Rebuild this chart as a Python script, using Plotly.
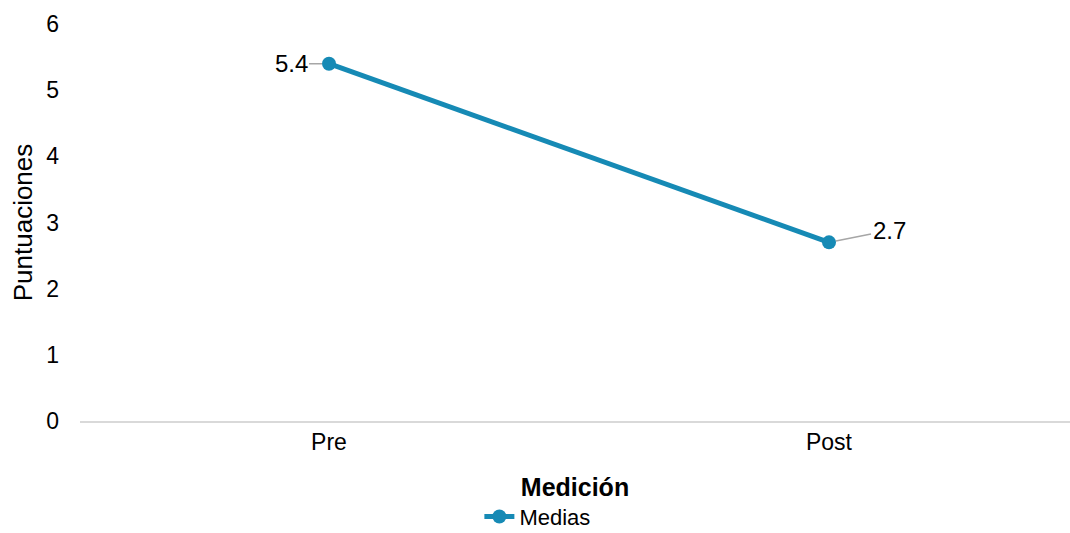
import plotly.graph_objects as go

categories = ["Pre", "Post"]
medias = [5.4, 2.7]
series_name = "Medias"
y_ticks = [0, 1, 2, 3, 4, 5, 6]

color = "#168ab5"
font = "Liberation Sans, Arial, sans-serif"

fig = go.Figure()
fig.add_trace(go.Scatter(
    x=categories, y=medias, mode="lines+markers", name=series_name,
    line=dict(color=color, width=5),
    marker=dict(size=14, color=color),
))

offsets = [(-38, 0), (60, -12)]
for c, v, (ax, ay) in zip(categories, medias, offsets):
    fig.add_annotation(
        x=c, y=v, text=f"{v}", showarrow=True, arrowhead=0,
        arrowcolor="#a6a6a6", arrowwidth=1.5, ax=ax, ay=ay,
        standoff=7, font=dict(family=font, size=24, color="#000"),
    )

fig.update_layout(
    width=1070, height=533,
    margin=dict(l=80, r=0, t=24, b=112, autoexpand=False),
    paper_bgcolor="white", plot_bgcolor="white",
    font=dict(family=font, size=23, color="#000"),
    showlegend=True,
    legend=dict(orientation="h", x=0.462, xanchor="center", y=-0.241, yanchor="middle",
                font=dict(size=22)),
    xaxis=dict(
        type="category", range=[-0.498, 1.482], showgrid=False,
        showline=True, linecolor="#d9d9d9", linewidth=1.5, zeroline=False,
        ticks="", tickfont=dict(size=23),
        title=dict(text="<b>Medición</b>", font=dict(size=25), standoff=24),
    ),
    yaxis=dict(
        range=[0, 6], tickvals=y_ticks, showgrid=False, zeroline=False,
        showline=False, ticks="", ticklabelstandoff=20, tickfont=dict(size=23),
        title=dict(text="Puntuaciones", font=dict(size=26), standoff=6),
    ),
)

fig.write_html("out.html")
